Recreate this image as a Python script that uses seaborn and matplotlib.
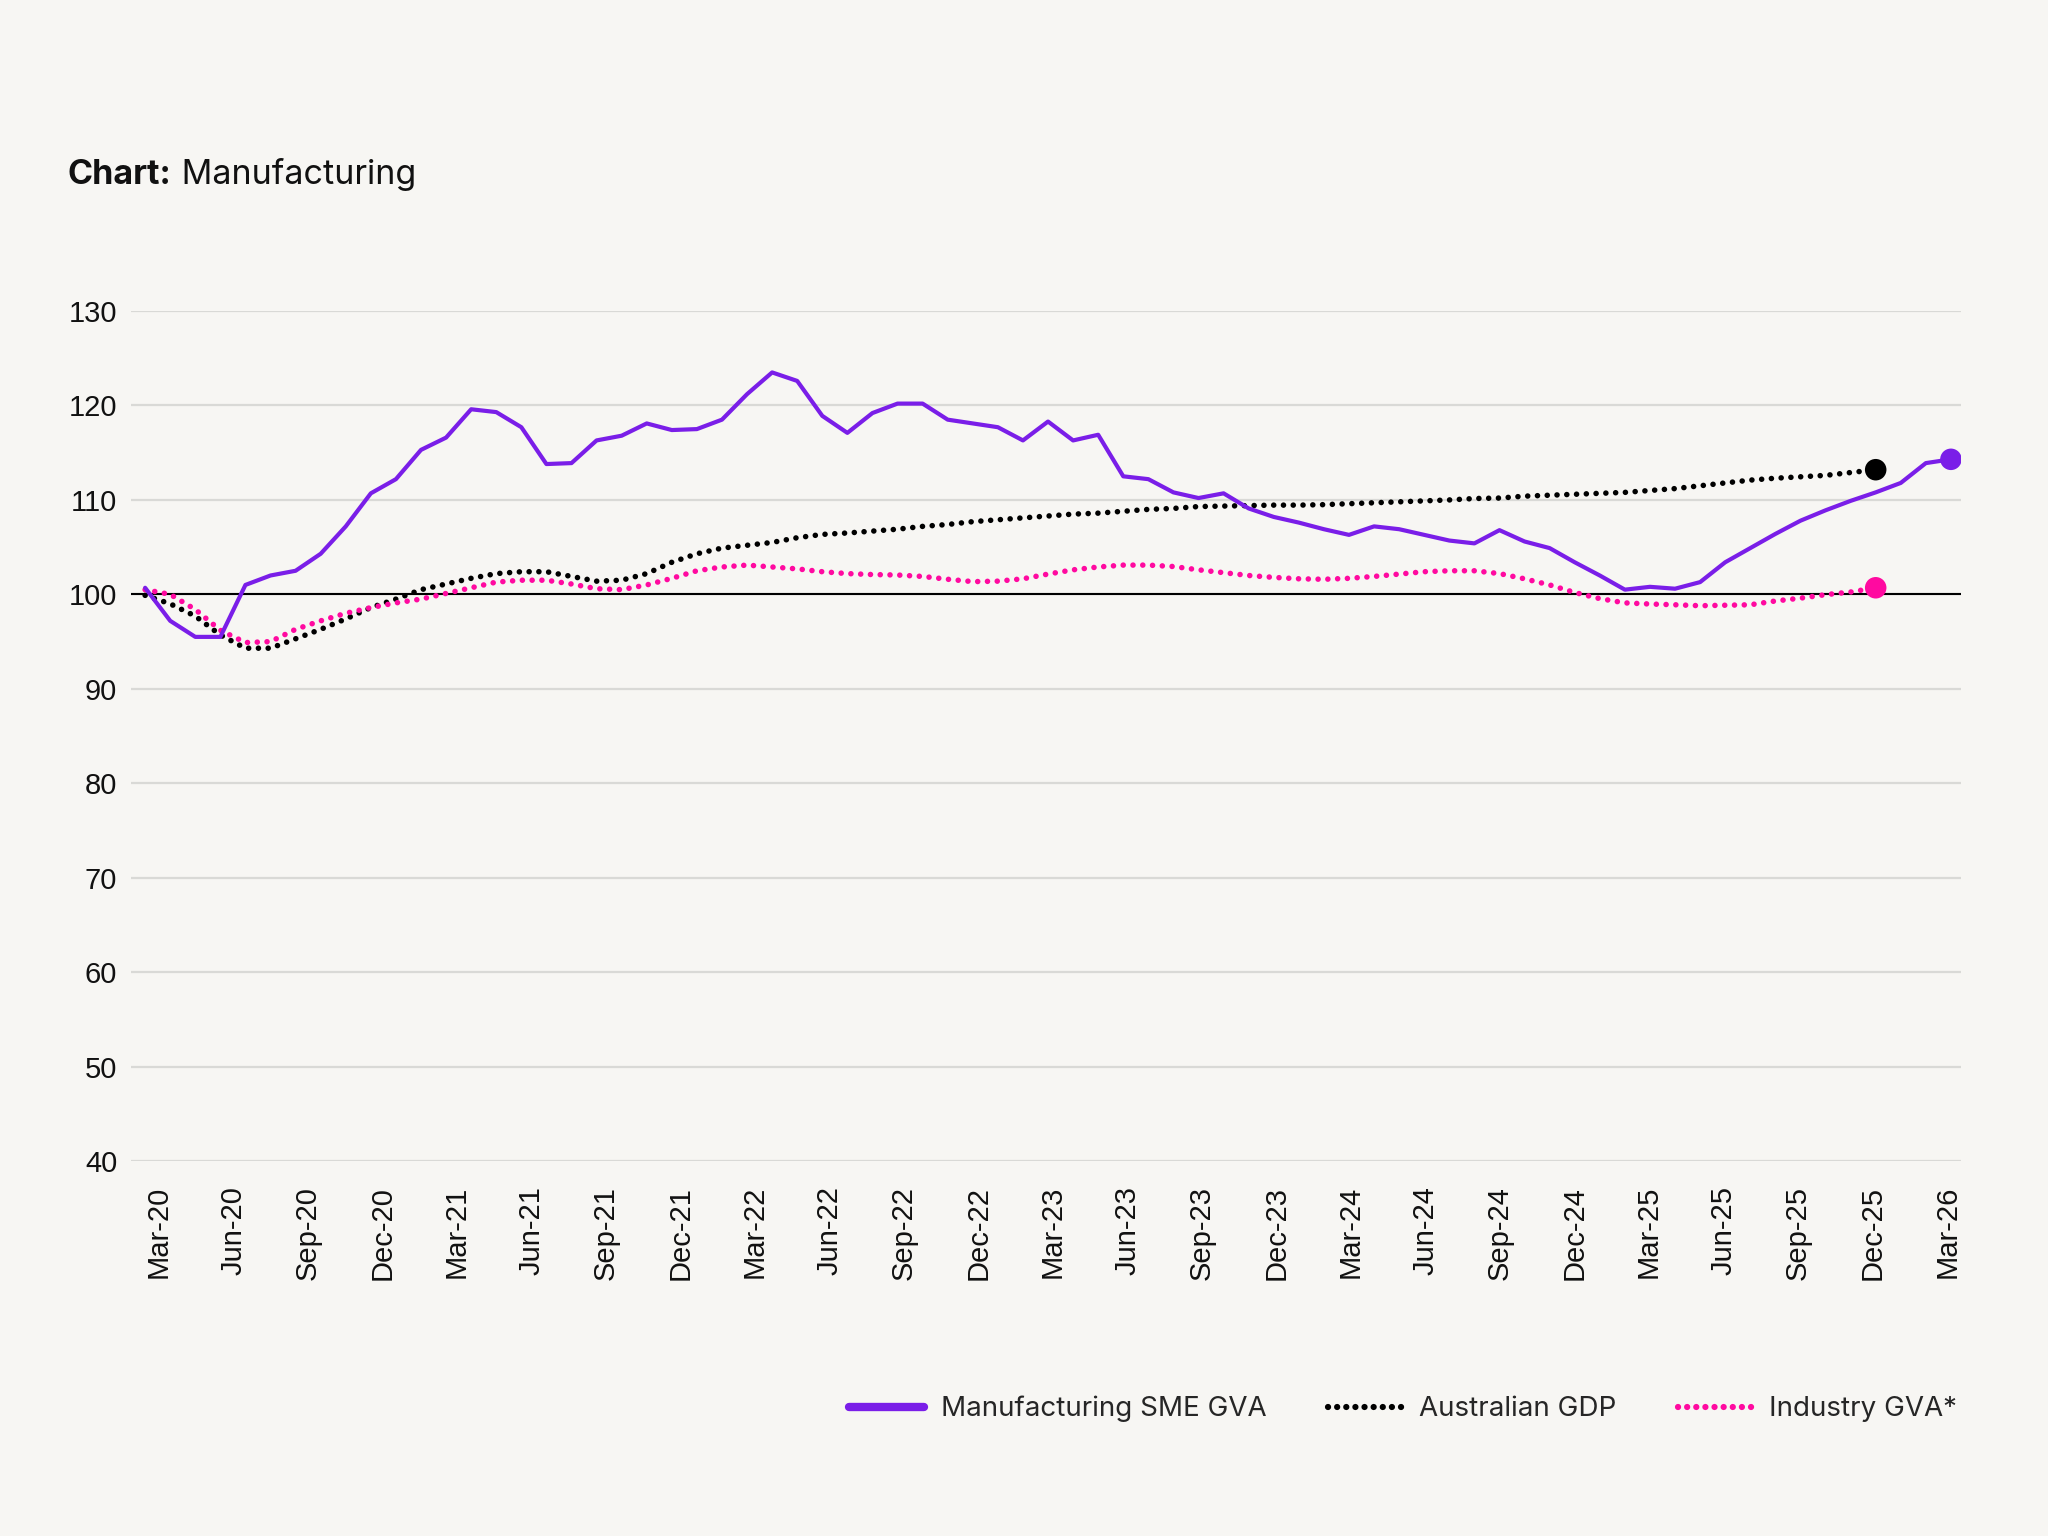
import numpy as np
import pandas as pd
import matplotlib
matplotlib.use('Agg')
import matplotlib.pyplot as plt
from matplotlib.lines import Line2D
import seaborn as sns

# Datos (indices mensuales, Mar-20 = 0)
sme_gva = [100.7, 97.2, 95.5, 95.5, 101.0, 102.0, 102.5, 104.3, 107.2, 110.7,
           112.2, 115.3, 116.6, 119.6, 119.3, 117.7, 113.8, 113.9, 116.3, 116.8,
           118.1, 117.4, 117.5, 118.5, 121.2, 123.5, 122.6, 118.9, 117.1, 119.2,
           120.2, 120.2, 118.5, 118.1, 117.7, 116.3, 118.3, 116.3, 116.9, 112.5,
           112.2, 110.8, 110.2, 110.7, 109.1, 108.2, 107.6, 106.9, 106.3, 107.2,
           106.9, 106.3, 105.7, 105.4, 106.8, 105.6, 104.9, 103.4, 102.0, 100.5,
           100.8, 100.6, 101.3, 103.4, 104.9, 106.4, 107.8, 108.9, 109.9, 110.8,
           111.8, 113.9, 114.3]

aus_gdp = [99.9, 99.0, 97.7, 95.7, 94.3, 94.3, 95.3, 96.3, 97.4, 98.6,
           99.5, 100.5, 101.1, 101.7, 102.2, 102.4, 102.4, 101.9, 101.4, 101.5,
           102.2, 103.4, 104.3, 104.9, 105.2, 105.5, 106.0, 106.35, 106.5, 106.7,
           106.9, 107.2, 107.4, 107.7, 107.9, 108.1, 108.3, 108.5, 108.6, 108.8,
           109.0, 109.1, 109.3, 109.35, 109.4, 109.45, 109.45, 109.5, 109.6, 109.7,
           109.8, 109.9, 110.0, 110.15, 110.2, 110.4, 110.5, 110.6, 110.7, 110.8,
           111.0, 111.2, 111.5, 111.8, 112.1, 112.3, 112.45, 112.6, 112.9, 113.2]

industry_gva = [100.5, 100.0, 98.4, 96.2, 94.9, 95.0, 96.3, 97.2, 98.0, 98.6,
                99.1, 99.5, 100.1, 100.7, 101.3, 101.5, 101.5, 101.1, 100.6, 100.5,
                101.0, 101.7, 102.5, 102.9, 103.1, 102.9, 102.7, 102.4, 102.2, 102.1,
                102.05, 101.9, 101.6, 101.35, 101.4, 101.65, 102.15, 102.6, 102.9, 103.1,
                103.1, 102.95, 102.6, 102.3, 102.0, 101.8, 101.65, 101.6, 101.7, 101.9,
                102.15, 102.4, 102.5, 102.5, 102.2, 101.65, 101.0, 100.2, 99.55, 99.1,
                98.98, 98.9, 98.8, 98.85, 98.9, 99.3, 99.6, 99.97, 100.25, 100.7]

tick_labels = ['Mar-20', 'Jun-20', 'Sep-20', 'Dec-20', 'Mar-21', 'Jun-21', 'Sep-21',
               'Dec-21', 'Mar-22', 'Jun-22', 'Sep-22', 'Dec-22', 'Mar-23', 'Jun-23',
               'Sep-23', 'Dec-23', 'Mar-24', 'Jun-24', 'Sep-24', 'Dec-24', 'Mar-25',
               'Jun-25', 'Sep-25', 'Dec-25', 'Mar-26']
y_ticks = [40, 50, 60, 70, 80, 90, 100, 110, 120, 130]

series_names = ['Manufacturing SME GVA', 'Australian GDP', 'Industry GVA*']

PURPLE = '#7a1ee8'
BLACK = '#000000'
PINK = '#ff0aa0'
BG = '#f7f6f3'

sns.set_theme(style='white')
plt.rcParams['font.family'] = ['Inter', 'DejaVu Sans']

df_sme = pd.DataFrame({'t': np.arange(len(sme_gva)), 'v': sme_gva})
df_gdp = pd.DataFrame({'t': np.arange(len(aus_gdp)), 'v': aus_gdp})
df_ind = pd.DataFrame({'t': np.arange(len(industry_gva)), 'v': industry_gva})

fig = plt.figure(figsize=(20.48, 15.36), dpi=100, facecolor=BG)
ax = fig.add_axes([0.064, 0.2441, 0.8935, 0.5534])
ax.set_facecolor(BG)

# grid y linea base 100
for yt in y_ticks:
    ax.axhline(yt, color='#d9d9d6', lw=1.6, zorder=0)
ax.axhline(100, color='black', lw=1.5, zorder=1)

dots = (0, (0.01, 1.75))
sns.lineplot(data=df_gdp, x='t', y='v', ax=ax, color=BLACK, linewidth=4.0, zorder=3)
sns.lineplot(data=df_ind, x='t', y='v', ax=ax, color=PINK, linewidth=4.0, zorder=4)
for ln in ax.lines[-2:]:
    ln.set_linestyle(dots)
    ln.set_dash_capstyle('round')
sns.lineplot(data=df_sme, x='t', y='v', ax=ax, color=PURPLE, linewidth=3.0, zorder=5)

# puntos finales
for d, c in [(df_gdp, BLACK), (df_ind, PINK), (df_sme, PURPLE)]:
    last = d.iloc[[-1]]
    sns.scatterplot(data=last, x='t', y='v', ax=ax, color=c, s=240, edgecolor='none',
                    zorder=6, legend=False)

ax.set_xlim(-0.56, 72.4)
ax.set_ylim(40, 130)
ax.set_xticks(np.linspace(0.55, 71.85, len(tick_labels)))
ax.set_xticklabels(tick_labels, rotation=90, fontsize=21,
                   family=['Liberation Sans', 'DejaVu Sans'], color='#111111')
ax.set_yticks(y_ticks)
ax.set_yticklabels([str(v) for v in y_ticks], fontsize=21,
                   family=['Liberation Sans', 'DejaVu Sans'], color='#111111')
ax.tick_params(axis='x', length=0, pad=18)
ax.tick_params(axis='y', length=0, pad=10)
ax.set_xlabel('')
ax.set_ylabel('')
sns.despine(ax=ax, left=True, bottom=True)
ax.grid(False)

# titulo
t1 = fig.text(0.0332, 0.880, 'Chart:', fontsize=24.5, fontweight='bold', color='#111111',
              va='baseline', ha='left')
fig.canvas.draw()
bb = t1.get_window_extent()
x2 = bb.x1 / fig.bbox.width
fig.text(x2, 0.880, ' Manufacturing', fontsize=24.5, color='#111111', va='baseline', ha='left')

# leyenda
handles = [
    Line2D([0], [0], color=PURPLE, lw=6, solid_capstyle='round'),
    Line2D([0], [0], color=BLACK, lw=4.5, linestyle=(0, (0.01, 1.45)), dash_capstyle='round'),
    Line2D([0], [0], color=PINK, lw=4.5, linestyle=(0, (0.01, 1.45)), dash_capstyle='round'),
]
fig.legend(handles, series_names, loc='center right', bbox_to_anchor=(0.968, 0.0827),
           ncol=3, frameon=False, fontsize=20, handlelength=2.7, handletextpad=0.6,
           columnspacing=2.2)

fig.savefig('out.png', dpi=100, facecolor=BG)
